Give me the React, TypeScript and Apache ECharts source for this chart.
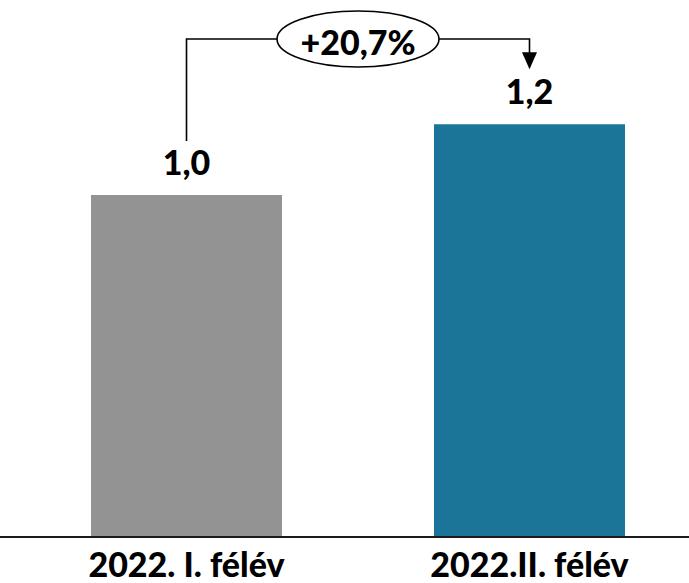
import React, { useEffect, useRef } from "react";
import * as echarts from "echarts";

const categories = ["2022. I. félév", "2022.II. félév"];
const values = [1.0, 1.207];
const barColors = ["#939393", "#1b7598"];
const changeLabel = "+20,7%";

export default function App() {
  const ref = useRef<HTMLDivElement>(null);
  useEffect(() => {
    const chart = echarts.init(ref.current!, null, { renderer: "svg" });
    const font = "Lato";
    chart.setOption({
      animation: false,
      grid: { left: 15, width: 686, top: 24, bottom: 46, outerBoundsMode: "none", containLabel: false },
      xAxis: {
        type: "category",
        data: categories,
        axisLine: { show: false },
        axisTick: { show: false },
        axisLabel: {
          color: "#000",
          fontFamily: font,
          fontWeight: 900,
          fontSize: 34,
          margin: 9,
        },
      },
      yAxis: { type: "value", min: 0, max: 1.5, show: false },
      series: [
        {
          type: "bar",
          barWidth: 191,
          data: values.map((v, i) => ({ value: v, itemStyle: { color: barColors[i] } })),
          label: {
            show: true,
            position: "top",
            distance: 17,
            formatter: (p: any) => Number(p.value).toFixed(1).replace(".", ","),
            color: "#000",
            fontFamily: font,
            fontWeight: 900,
            fontSize: 34,
          },
        },
      ],
    });
    const [x1, y1] = chart.convertToPixel({ gridIndex: 0 }, [0, values[0]]) as number[];
    const [x2, y2] = chart.convertToPixel({ gridIndex: 0 }, [1, values[1]]) as number[];
    const [, y0] = chart.convertToPixel({ gridIndex: 0 }, [0, 0]) as number[];
    const topY = 39;
    const cx = (x1 + x2) / 2;
    const tipY = y2 - 55;
    chart.setOption({
      graphic: [
        {
          type: "line",
          shape: { x1: 0, y1: y0, x2: 689, y2: y0 },
          style: { stroke: "#1a1a1a", lineWidth: 2 },
          z: 10,
        },
        {
          type: "polyline",
          shape: { points: [[x1, y1 - 54], [x1, topY], [x2, topY], [x2, tipY - 14]] },
          style: { stroke: "#000", lineWidth: 1.6, fill: null },
          z: 10,
        },
        {
          type: "polygon",
          shape: { points: [[x2 - 7.5, tipY - 17], [x2 + 7.5, tipY - 17], [x2, tipY]] },
          style: { fill: "#000" },
          z: 10,
        },
        {
          type: "ellipse",
          shape: { cx, cy: topY, rx: 81, ry: 28 },
          style: { fill: "#fff", stroke: "#000", lineWidth: 1.6 },
          z: 11,
        },
        {
          type: "text",
          x: cx,
          y: topY + 2,
          style: {
            text: changeLabel,
            align: "center",
            verticalAlign: "middle",
            fontFamily: font,
            fontWeight: 900,
            fontSize: 34,
            fill: "#000",
          },
          z: 12,
        },
      ],
    });
    return () => chart.dispose();
  }, []);
  return (
    <div
      ref={ref}
      style={{ position: "absolute", left: 0, top: 0, width: 689, height: 583 }}
    />
  );
}
